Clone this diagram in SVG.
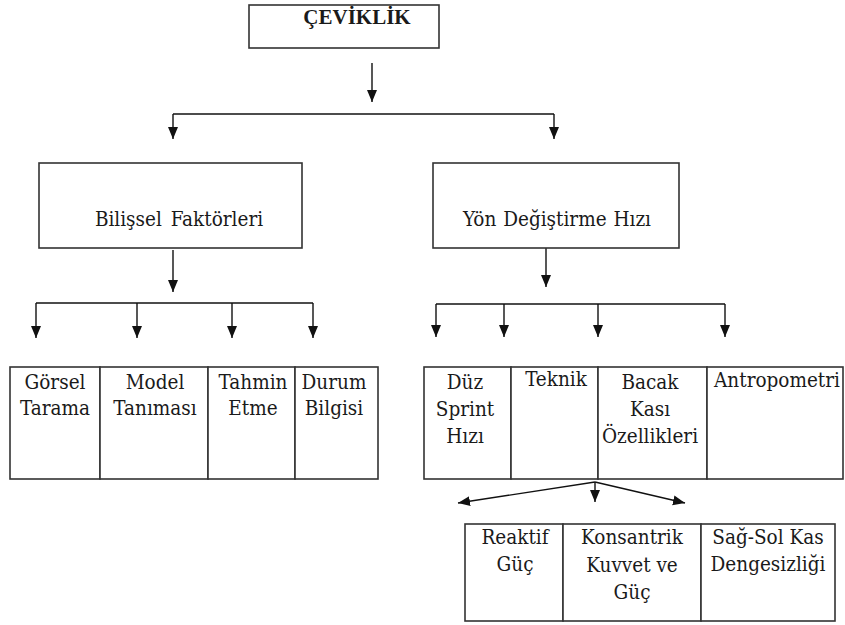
<svg xmlns="http://www.w3.org/2000/svg" width="845" height="625" viewBox="0 0 845 625">
<style>
.box{fill:#fff;stroke:#333;stroke-width:1.6}
.ln{fill:none;stroke:#111;stroke-width:1.4}
text{font-family:'DejaVu Serif Condensed','DejaVu Serif',serif;font-stretch:condensed;font-size:20.5px;fill:#1a1a1a;text-anchor:middle}
.b{font-family:'Liberation Serif','DejaVu Serif',serif;font-stretch:normal;font-weight:bold;font-size:21px}
</style>
<defs>
<marker id="ah" markerUnits="userSpaceOnUse" markerWidth="12" markerHeight="12" viewBox="0 0 12 10" refX="12" refY="5" orient="auto">
<path d="M0,0 L12,5 L0,10 z" fill="#111"/>
</marker>
</defs>
<rect width="845" height="625" fill="#fff"/>
<g id="connectors">
<line class="ln" x1="372" y1="63" x2="372" y2="102" marker-end="url(#ah)"/>
<polyline class="ln" points="173,114 554,114"/>
<line class="ln" x1="173" y1="114" x2="173" y2="139" marker-end="url(#ah)"/>
<line class="ln" x1="554" y1="114" x2="554" y2="139" marker-end="url(#ah)"/>
<line class="ln" x1="173" y1="250" x2="173" y2="292" marker-end="url(#ah)"/>
<polyline class="ln" points="36,303 313,303"/>
<line class="ln" x1="36" y1="303" x2="36" y2="338" marker-end="url(#ah)"/>
<line class="ln" x1="137" y1="303" x2="137" y2="338" marker-end="url(#ah)"/>
<line class="ln" x1="232" y1="303" x2="232" y2="338" marker-end="url(#ah)"/>
<line class="ln" x1="313" y1="303" x2="313" y2="338" marker-end="url(#ah)"/>
<line class="ln" x1="546" y1="248" x2="546" y2="287" marker-end="url(#ah)"/>
<polyline class="ln" points="436,304 725,304"/>
<line class="ln" x1="436" y1="304" x2="436" y2="337" marker-end="url(#ah)"/>
<line class="ln" x1="504" y1="304" x2="504" y2="337" marker-end="url(#ah)"/>
<line class="ln" x1="598" y1="304" x2="598" y2="337" marker-end="url(#ah)"/>
<line class="ln" x1="725" y1="304" x2="725" y2="337" marker-end="url(#ah)"/>
<line class="ln" x1="595" y1="482" x2="458" y2="503" marker-end="url(#ah)"/>
<line class="ln" x1="595" y1="482" x2="595" y2="502" marker-end="url(#ah)"/>
<line class="ln" x1="595" y1="482" x2="685" y2="503" marker-end="url(#ah)"/>
</g>
<g id="ceviklik">
<rect class="box" x="249" y="5" width="190" height="43"/>
<text class="b" x="357" y="24">ÇEVİKLİK</text>
</g>
<g id="bilissel">
<rect class="box" x="39" y="163" width="263" height="85"/>
<text x="179" y="226" word-spacing="3">Bilişsel Faktörleri</text>
</g>
<g id="yon">
<rect class="box" x="433" y="163" width="246" height="85"/>
<text x="557" y="226" word-spacing="1">Yön Değiştirme Hızı</text>
</g>
<g id="gorsel">
<rect class="box" x="10" y="367" width="90" height="112"/>
<text x="55" y="389">Görsel</text>
<text x="55" y="415">Tarama</text>
</g>
<g id="model">
<rect class="box" x="100" y="367" width="108" height="112"/>
<text x="155" y="389">Model</text>
<text x="155" y="415">Tanıması</text>
</g>
<g id="tahmin">
<rect class="box" x="208" y="367" width="87" height="112"/>
<text x="253" y="389">Tahmin</text>
<text x="253" y="415">Etme</text>
</g>
<g id="durum">
<rect class="box" x="295" y="367" width="83" height="112"/>
<text x="334" y="389">Durum</text>
<text x="334" y="415">Bilgisi</text>
</g>
<g id="duz">
<rect class="box" x="424" y="367" width="87" height="112"/>
<text x="465" y="389">Düz</text>
<text x="465" y="416">Sprint</text>
<text x="465" y="443">Hızı</text>
</g>
<g id="teknik">
<rect class="box" x="511" y="367" width="87" height="112"/>
<text x="556" y="386">Teknik</text>
</g>
<g id="bacak">
<rect class="box" x="598" y="367" width="109" height="112"/>
<text x="650" y="389">Bacak</text>
<text x="650" y="416">Kası</text>
<text x="650" y="443">Özellikleri</text>
</g>
<g id="antropometri">
<rect class="box" x="707" y="367" width="136" height="112"/>
<text x="777" y="387">Antropometri</text>
</g>
<g id="reaktif">
<rect class="box" x="465" y="524" width="98" height="97"/>
<text x="515" y="544">Reaktif</text>
<text x="515" y="571">Güç</text>
</g>
<g id="konsantrik">
<rect class="box" x="563" y="524" width="138" height="97"/>
<text x="632" y="544">Konsantrik</text>
<text x="632" y="572">Kuvvet ve</text>
<text x="632" y="599">Güç</text>
</g>
<g id="sagsol">
<rect class="box" x="701" y="524" width="134" height="97"/>
<text x="768" y="544">Sağ-Sol Kas</text>
<text x="768" y="571">Dengesizliği</text>
</g>
</svg>
